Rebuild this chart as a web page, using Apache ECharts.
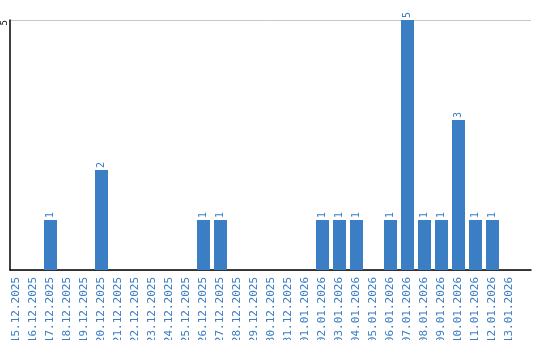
<!DOCTYPE html>
<html><head><meta charset="utf-8">
<script src="https://cdn.jsdelivr.net/npm/echarts@6/dist/echarts.min.js"></script>
<style>html,body{margin:0;padding:0;background:#fff}#c{width:540px;height:340px}</style>
</head><body><div id="c"></div>
<script>
const categories = ["15.12.2025","16.12.2025","17.12.2025","18.12.2025","19.12.2025","20.12.2025","21.12.2025","22.12.2025","23.12.2025","24.12.2025","25.12.2025","26.12.2025","27.12.2025","28.12.2025","29.12.2025","30.12.2025","31.12.2025","01.01.2026","02.01.2026","03.01.2026","04.01.2026","05.01.2026","06.01.2026","07.01.2026","08.01.2026","09.01.2026","10.01.2026","11.01.2026","12.01.2026","13.01.2026"];
const values = [null,null,1,null,null,2,null,null,null,null,null,1,1,null,null,null,null,null,1,1,1,null,1,5,1,1,3,1,1,null];
const yMax = 5;
const blue = '#3b7ec3';
const chart = echarts.init(document.getElementById('c'));
chart.setOption({
  animation: false,
  grid: [
    {left: 8, right: 22, top: 20, bottom: 70, outerBoundsMode: 'none', containLabel: false},
    {left: 10, right: 9, top: 20, bottom: 70, outerBoundsMode: 'none', containLabel: false}
  ],
  xAxis: [
    {type: 'category', data: categories, gridIndex: 0,
     axisLine: {show: false}, axisTick: {show: false},
     axisLabel: {rotate: 90, interval: 0, color: blue, fontSize: 11, fontFamily: 'DejaVu Sans Mono', margin: 7}},
    {type: 'value', gridIndex: 1, min: 0, max: 1,
     axisLine: {show: true, lineStyle: {color: '#000', width: 1.5}}, axisTick: {show: false},
     axisLabel: {show: false}, splitLine: {show: false}}
  ],
  yAxis: [
    {type: 'value', gridIndex: 0, min: 0, max: yMax, show: false},
    {type: 'value', gridIndex: 1, min: 0, max: yMax, interval: yMax,
     axisLine: {show: true, lineStyle: {color: '#000', width: 1.5}}, axisTick: {show: false},
     axisLabel: {rotate: 90, color: '#000', fontSize: 9, lineHeight: 9, fontFamily: 'DejaVu Sans Mono', margin: 1,
       align: 'right', verticalAlign: 'bottom', alignMaxLabel: 'right', showMaxLabel: true,
       padding: [0, 0, 0, 0],
       formatter: v => v === 0 ? '' : String(v)},
     splitLine: {show: true, lineStyle: {color: '#c8c8c8', width: 1}}}
  ],
  series: [{
    type: 'bar', xAxisIndex: 0, yAxisIndex: 0, data: values, barWidth: 13,
    itemStyle: {color: blue},
    label: {show: true, position: 'top', rotate: 90, color: blue, fontSize: 10,
      fontFamily: 'DejaVu Sans Mono', distance: 2, align: 'left', verticalAlign: 'middle'}
  }]
});
</script></body></html>
